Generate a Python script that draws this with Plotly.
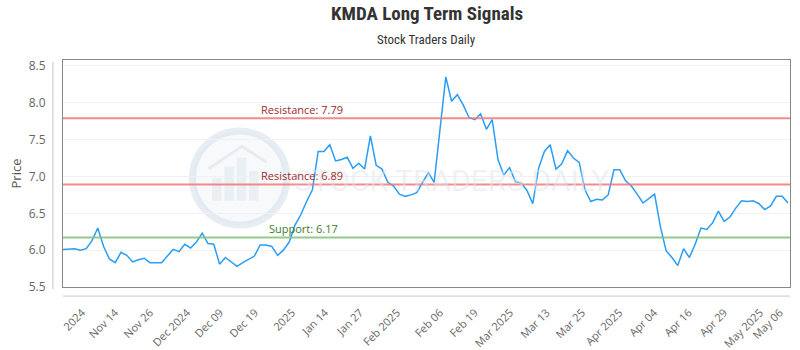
import plotly.graph_objects as go

# ---- data ----
prices = [
    6.01, 6.02, 6.02, 6.00, 6.02, 6.13, 6.30, 6.05, 5.88, 5.83,
    5.97, 5.93, 5.84, 5.87, 5.89, 5.83, 5.83, 5.83, 5.92, 6.01,
    5.98, 6.08, 6.03, 6.11, 6.23, 6.09, 6.08, 5.81, 5.90, 5.84,
    5.78, 5.83, 5.88, 5.92, 6.07, 6.07, 6.05, 5.93, 6.00, 6.11,
    6.34, 6.48, 6.66, 6.82, 7.34, 7.34, 7.43, 7.21, 7.23, 7.26,
    7.11, 7.18, 7.10, 7.55, 7.15, 7.10, 6.92, 6.87, 6.76, 6.73,
    6.75, 6.78, 6.92, 7.05, 6.92, 7.68, 8.35, 8.02, 8.11, 7.97,
    7.80, 7.77, 7.85, 7.64, 7.77, 7.23, 7.02, 7.12, 6.93, 6.91,
    6.81, 6.63, 7.11, 7.34, 7.43, 7.10, 7.17, 7.35, 7.25, 7.19,
    6.82, 6.66, 6.69, 6.68, 6.75, 7.09, 7.09, 6.94, 6.87, 6.76,
    6.64, 6.70, 6.76, 6.32, 5.99, 5.90, 5.79, 6.02, 5.90, 6.08,
    6.30, 6.28, 6.37, 6.53, 6.39, 6.45, 6.57, 6.67, 6.66, 6.67,
    6.63, 6.55, 6.60, 6.73, 6.73, 6.64,
]

tick_pos = [3.3, 9, 15, 21.4, 27.1, 33.1, 39.5, 45.2, 51.2, 57.6, 65,
            71, 77.1, 83.4, 89.5, 95.9, 101.9, 107.9, 114, 120.2, 123.6]
tick_text = ["2024", "Nov 14", "Nov 26", "Dec 2024", "Dec 09", "Dec 19",
             "2025", "Jan 14", "Jan 27", "Feb 2025", "Feb 06", "Feb 19",
             "Mar 2025", "Mar 13", "Mar 25", "Apr 2025", "Apr 04", "Apr 16",
             "Apr 29", "May 2025", "May 06"]

y_ticks = [5.5, 6.0, 6.5, 7.0, 7.5, 8.0, 8.5]
resistance_levels = [7.79, 6.89]
support_levels = [6.17]

title_text = "KMDA Long Term Signals"
subtitle_text = "Stock Traders Daily"
watermark_text = "STOCK TRADERS DAILY"

TICK_FONT = "Open Sans, Noto Sans, sans-serif"
TITLE_FONT = "Liberation Sans Narrow, Roboto Condensed, Arial Narrow, Roboto, sans-serif"

fig = go.Figure()

fig.add_trace(go.Scatter(
    x=list(range(len(prices))), y=prices, mode="lines",
    line=dict(color="#2a9df4", width=1.5),
    hoverinfo="y", showlegend=False,
))

shapes = []
annotations = []

# watermark (logo circle with bar icon + text)
shapes.append(dict(type="circle", xref="paper", yref="paper",
                   x0=0.178, x1=0.308, y0=0.273, y1=0.687,
                   line=dict(color="rgba(210,220,232,0.5)", width=7),
                   fillcolor="rgba(228,234,242,0.3)", layer="below"))
logo_bars = [(0.205, 0.218, 0.38, 0.48), (0.222, 0.235, 0.38, 0.53),
             (0.239, 0.252, 0.38, 0.57), (0.256, 0.269, 0.38, 0.51)]
for bx0, bx1, by0, by1 in logo_bars:
    shapes.append(dict(type="rect", xref="paper", yref="paper",
                       x0=bx0, x1=bx1, y0=by0, y1=by1, line=dict(width=0),
                       fillcolor="rgba(218,226,236,0.45)", layer="below"))
shapes.append(dict(type="path", xref="paper", yref="paper",
                   path="M 0.200,0.52 L 0.228,0.58 L 0.246,0.62 L 0.280,0.55",
                   line=dict(color="rgba(218,226,236,0.55)", width=3), layer="below"))
annotations.append(dict(text=watermark_text, xref="paper", yref="paper",
                        x=0.535, y=0.47, showarrow=False,
                        font=dict(family="Roboto, sans-serif", size=30,
                                  color="rgba(222,228,236,0.5)")))

for lvl in resistance_levels:
    shapes.append(dict(type="line", xref="paper", yref="y", x0=0, x1=1,
                       y0=lvl, y1=lvl,
                       line=dict(color="rgba(240,120,120,0.85)", width=2)))
    annotations.append(dict(text=f"Resistance: {lvl:.2f}", xref="paper", yref="y",
                            x=0.269, y=lvl, yshift=9, xanchor="left",
                            showarrow=False,
                            font=dict(family=TICK_FONT, size=11, color="#9b2c2c")))
for lvl in support_levels:
    shapes.append(dict(type="line", xref="paper", yref="y", x0=0, x1=1,
                       y0=lvl, y1=lvl,
                       line=dict(color="rgba(130,190,120,0.85)", width=2)))
    annotations.append(dict(text=f"Support: {lvl:.2f}", xref="paper", yref="y",
                            x=0.28, y=lvl, yshift=9, xanchor="left",
                            showarrow=False,
                            font=dict(family=TICK_FONT, size=11, color="#3a7d2c")))

# offset axis lines (outside the plot box)
shapes.append(dict(type="line", xref="paper", yref="paper", x0=-0.0138, x1=-0.0138,
                   y0=-0.01, y1=0.99, line=dict(color="#c8c8c8", width=1)))
shapes.append(dict(type="line", xref="paper", yref="paper", x0=0, x1=1,
                   y0=-0.04, y1=-0.04, line=dict(color="#c8c8c8", width=1)))

annotations.append(dict(text=f"<b>{title_text}</b>", xref="paper", yref="paper",
                        x=0.5, xanchor="center", y=1, yanchor="bottom", yshift=33,
                        showarrow=False,
                        font=dict(family=TITLE_FONT, size=19, color="#333333")))
annotations.append(dict(text=subtitle_text, xref="paper", yref="paper",
                        x=0.5, xanchor="center", y=1, yanchor="bottom", yshift=11,
                        showarrow=False,
                        font=dict(family=TITLE_FONT, size=13, color="#333333")))

fig.update_layout(
    width=800, height=350,
    margin=dict(l=63, r=10, t=60, b=63),
    paper_bgcolor="white", plot_bgcolor="white",
    shapes=shapes, annotations=annotations,
    xaxis=dict(range=[0, len(prices) - 1 + 0.35], tickmode="array",
               tickvals=tick_pos, ticktext=tick_text, tickangle=-45,
               showgrid=False, zeroline=False, automargin=False,
               showline=True, mirror=True, linecolor="#888888", linewidth=1,
               ticks="", ticklabelstandoff=14,
               tickfont=dict(family=TICK_FONT, size=11, color="#666666")),
    yaxis=dict(range=[5.5, 8.58], tickmode="array", tickvals=y_ticks,
               ticktext=[f"{v:.1f}" for v in y_ticks],
               showgrid=True, gridcolor="#f1f1f1", gridwidth=1, zeroline=False,
               automargin=False,
               showline=True, mirror=True, linecolor="#888888", linewidth=1,
               ticks="", ticklabelstandoff=14,
               title=dict(text="Price", standoff=4,
                          font=dict(family=TICK_FONT, size=13, color="#555555")),
               tickfont=dict(family=TICK_FONT, size=12, color="#666666")),
)

fig.write_html("out.html")
